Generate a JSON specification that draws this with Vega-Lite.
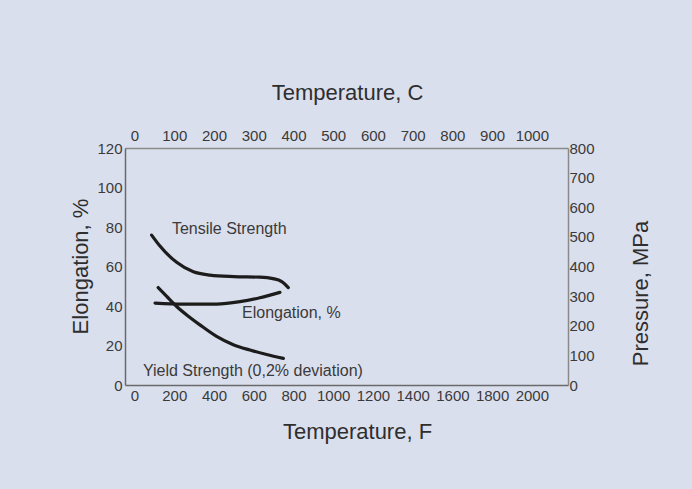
{
  "$schema": "https://vega.github.io/schema/vega-lite/v6.json",
  "width": 443,
  "height": 237,
  "autosize": {"type": "none"},
  "padding": {"left": 125, "top": 148, "right": 124, "bottom": 104},
  "background": "#dadfed",
  "config": {
    "view": {"stroke": null},
    "font": "Liberation Sans",
    "axis": {
      "ticks": false,
      "grid": false,
      "labelFontSize": 15,
      "labelColor": "#3a3a3a",
      "labelPadding": 3,
      "labelOverlap": false,
      "labelFlush": false,
      "format": "d",
      "titleFontSize": 22,
      "titleFontWeight": "normal",
      "titleColor": "#2e2e2e",
      "domainColor": "#6a6a6a",
      "domainWidth": 1.5
    }
  },
  "datasets": {
    "strength": [
      {"series": "Tensile", "F": 86, "MPa": 506},
      {"series": "Tensile", "F": 128, "MPa": 469},
      {"series": "Tensile", "F": 212, "MPa": 414},
      {"series": "Tensile", "F": 296, "MPa": 382},
      {"series": "Tensile", "F": 380, "MPa": 371},
      {"series": "Tensile", "F": 500, "MPa": 366},
      {"series": "Tensile", "F": 631, "MPa": 364},
      {"series": "Tensile", "F": 697, "MPa": 359},
      {"series": "Tensile", "F": 741, "MPa": 349},
      {"series": "Tensile", "F": 774, "MPa": 329},
      {"series": "Yield", "F": 119, "MPa": 329},
      {"series": "Yield", "F": 162, "MPa": 299},
      {"series": "Yield", "F": 212, "MPa": 265},
      {"series": "Yield", "F": 279, "MPa": 228},
      {"series": "Yield", "F": 329, "MPa": 203},
      {"series": "Yield", "F": 413, "MPa": 164},
      {"series": "Yield", "F": 497, "MPa": 136},
      {"series": "Yield", "F": 581, "MPa": 118},
      {"series": "Yield", "F": 665, "MPa": 103},
      {"series": "Yield", "F": 749, "MPa": 90}
    ],
    "elong": [
      {"F": 103, "pct": 41.5},
      {"F": 245, "pct": 41},
      {"F": 413, "pct": 41},
      {"F": 531, "pct": 42.2},
      {"F": 631, "pct": 44.2},
      {"F": 732, "pct": 46.9}
    ],
    "labels": [
      {"F": 188, "pct": 79, "text": "Tensile Strength"},
      {"F": 541, "pct": 36.5, "text": "Elongation, %"},
      {"F": 42, "pct": 7.1, "text": "Yield Strength (0,2% deviation)"}
    ],
    "celsius": [
      {"C": 0}, {"C": 1000}
    ]
  },
  "layer": [
    {
      "data": {"name": "elong"},
      "mark": {"type": "line", "color": "#1c1c1c", "strokeWidth": 3.2, "interpolate": "monotone", "strokeCap": "round"},
      "encoding": {
        "x": {"field": "F", "type": "quantitative",
              "scale": {"domain": [-48, 2182], "nice": false, "zero": false},
              "axis": {"orient": "bottom", "title": "Temperature, F", "values": [0,200,400,600,800,1000,1200,1400,1600,1800,2000],
                       "titleX": 232, "titleY": 46, "titleBaseline": "middle", "titleAlign": "center"}},
        "y": {"field": "pct", "type": "quantitative",
              "scale": {"domain": [0, 120], "nice": false},
              "axis": {"orient": "left", "title": "Elongation, %", "values": [0,20,40,60,80,100,120],
                       "titleX": -45, "titleY": 118, "titleAngle": 270, "titleBaseline": "middle", "titleAlign": "center"}}
      }
    },
    {
      "data": {"name": "strength"},
      "mark": {"type": "line", "color": "#1c1c1c", "strokeWidth": 3.2, "interpolate": "monotone", "strokeCap": "round"},
      "encoding": {
        "x": {"field": "F", "type": "quantitative",
              "scale": {"domain": [-48, 2182], "nice": false, "zero": false}, "axis": null},
        "y": {"field": "MPa", "type": "quantitative",
              "scale": {"domain": [0, 800], "nice": false},
              "axis": {"orient": "right", "title": "Pressure, MPa", "values": [0,100,200,300,400,500,600,700,800],
                       "domainColor": "#8a8a8a", "labelPadding": 1,
                       "titleX": 72, "titleY": 145, "titleAngle": 270, "titleBaseline": "middle", "titleAlign": "center"}},
        "detail": {"field": "series", "type": "nominal"}
      }
    },
    {
      "data": {"name": "labels"},
      "mark": {"type": "text", "align": "left", "baseline": "middle", "fontSize": 16, "color": "#3a3a3a"},
      "encoding": {
        "x": {"field": "F", "type": "quantitative",
              "scale": {"domain": [-48, 2182], "nice": false, "zero": false}, "axis": null},
        "y": {"field": "pct", "type": "quantitative",
              "scale": {"domain": [0, 120], "nice": false}, "axis": null},
        "text": {"field": "text", "type": "nominal"}
      }
    },
    {
      "data": {"name": "celsius"},
      "mark": {"type": "point", "opacity": 0},
      "encoding": {
        "x": {"field": "C", "type": "quantitative",
              "scale": {"domain": [-24, 1091], "nice": false, "zero": false},
              "axis": {"orient": "top", "title": "Temperature, C", "values": [0,100,200,300,400,500,600,700,800,900,1000],
                       "domainColor": "#8a8a8a", "labelPadding": 5,
                       "titleX": 222, "titleY": -56, "titleBaseline": "middle", "titleAlign": "center"}},
        "y": {"datum": 0, "type": "quantitative", "scale": {"domain": [0, 120], "nice": false}, "axis": null}
      }
    }
  ],
  "resolve": {"scale": {"x": "independent", "y": "independent"}}
}
